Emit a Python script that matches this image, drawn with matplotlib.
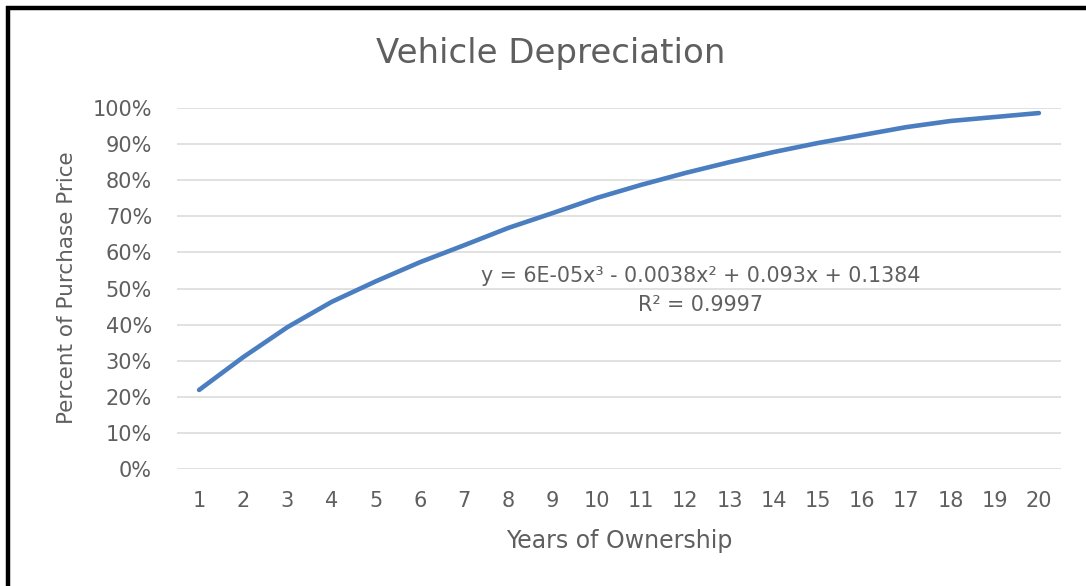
import numpy as np
import matplotlib.pyplot as plt
from matplotlib.lines import Line2D
from matplotlib.ticker import PercentFormatter

# data
years = list(range(1, 21))
pct_price = [0.219, 0.310, 0.393, 0.463, 0.520, 0.573, 0.620, 0.668, 0.709, 0.751,
             0.787, 0.820, 0.850, 0.878, 0.903, 0.925, 0.947, 0.964, 0.975, 0.986]
y_ticks = [i / 10 for i in range(11)]
eq_text = "y = 6E-05x³ - 0.0038x² + 0.093x + 0.1384"
r2_text = "R² = 0.9997"

plt.rcParams['font.family'] = ['DejaVu Sans']
txt_col = '#5f5f5f'

W, H = 1086, 586
fig = plt.figure(figsize=(W/100, H/100), dpi=100)
ax = fig.add_axes([177/W, 1 - 469/H, (1061-177)/W, (469-108)/H])

ax.plot(years, pct_price, color='#4A7EC0', lw=3.3, solid_capstyle='round')

ax.set_xlim(0.5, 20.5)
ax.set_ylim(0, 1)
ax.set_xticks(years)
ax.set_yticks(y_ticks)
ax.yaxis.set_major_formatter(PercentFormatter(1.0, decimals=0))
ax.tick_params(length=0, labelsize=15, colors=txt_col, pad=18)
ax.tick_params(axis='x', pad=16)
ax.grid(axis='y', color='#D9D9D9', lw=1.1)
ax.set_axisbelow(True)
for s in ax.spines.values():
    s.set_visible(False)

fig.text(619/W, 1 - 541/H, 'Years of Ownership', fontsize=17, color=txt_col,
         ha='center', va='center')
fig.text(67/W, 1 - 288/H, 'Percent of Purchase Price', fontsize=15.5, color=txt_col,
         ha='center', va='center', rotation=90)
fig.text(551/W, 1 - 53/H, 'Vehicle Depreciation', fontsize=24.5, color=txt_col,
         ha='center', va='center')

ax.text(12.35, 0.535, eq_text, fontsize=14.9, color=txt_col, ha='center', va='center')
ax.text(12.35, 0.454, r2_text, fontsize=14.9, color=txt_col, ha='center', va='center')

# black frame on left and top edges
fig.add_artist(Line2D([8/W, 8/W], [0, 1 - 6/H], transform=fig.transFigure,
                      color='black', lw=3.2, solid_capstyle='butt'))
fig.add_artist(Line2D([6/W, 1], [1 - 8/H, 1 - 8/H], transform=fig.transFigure,
                      color='black', lw=3.2, solid_capstyle='butt'))

fig.savefig('out.png', dpi=100)
